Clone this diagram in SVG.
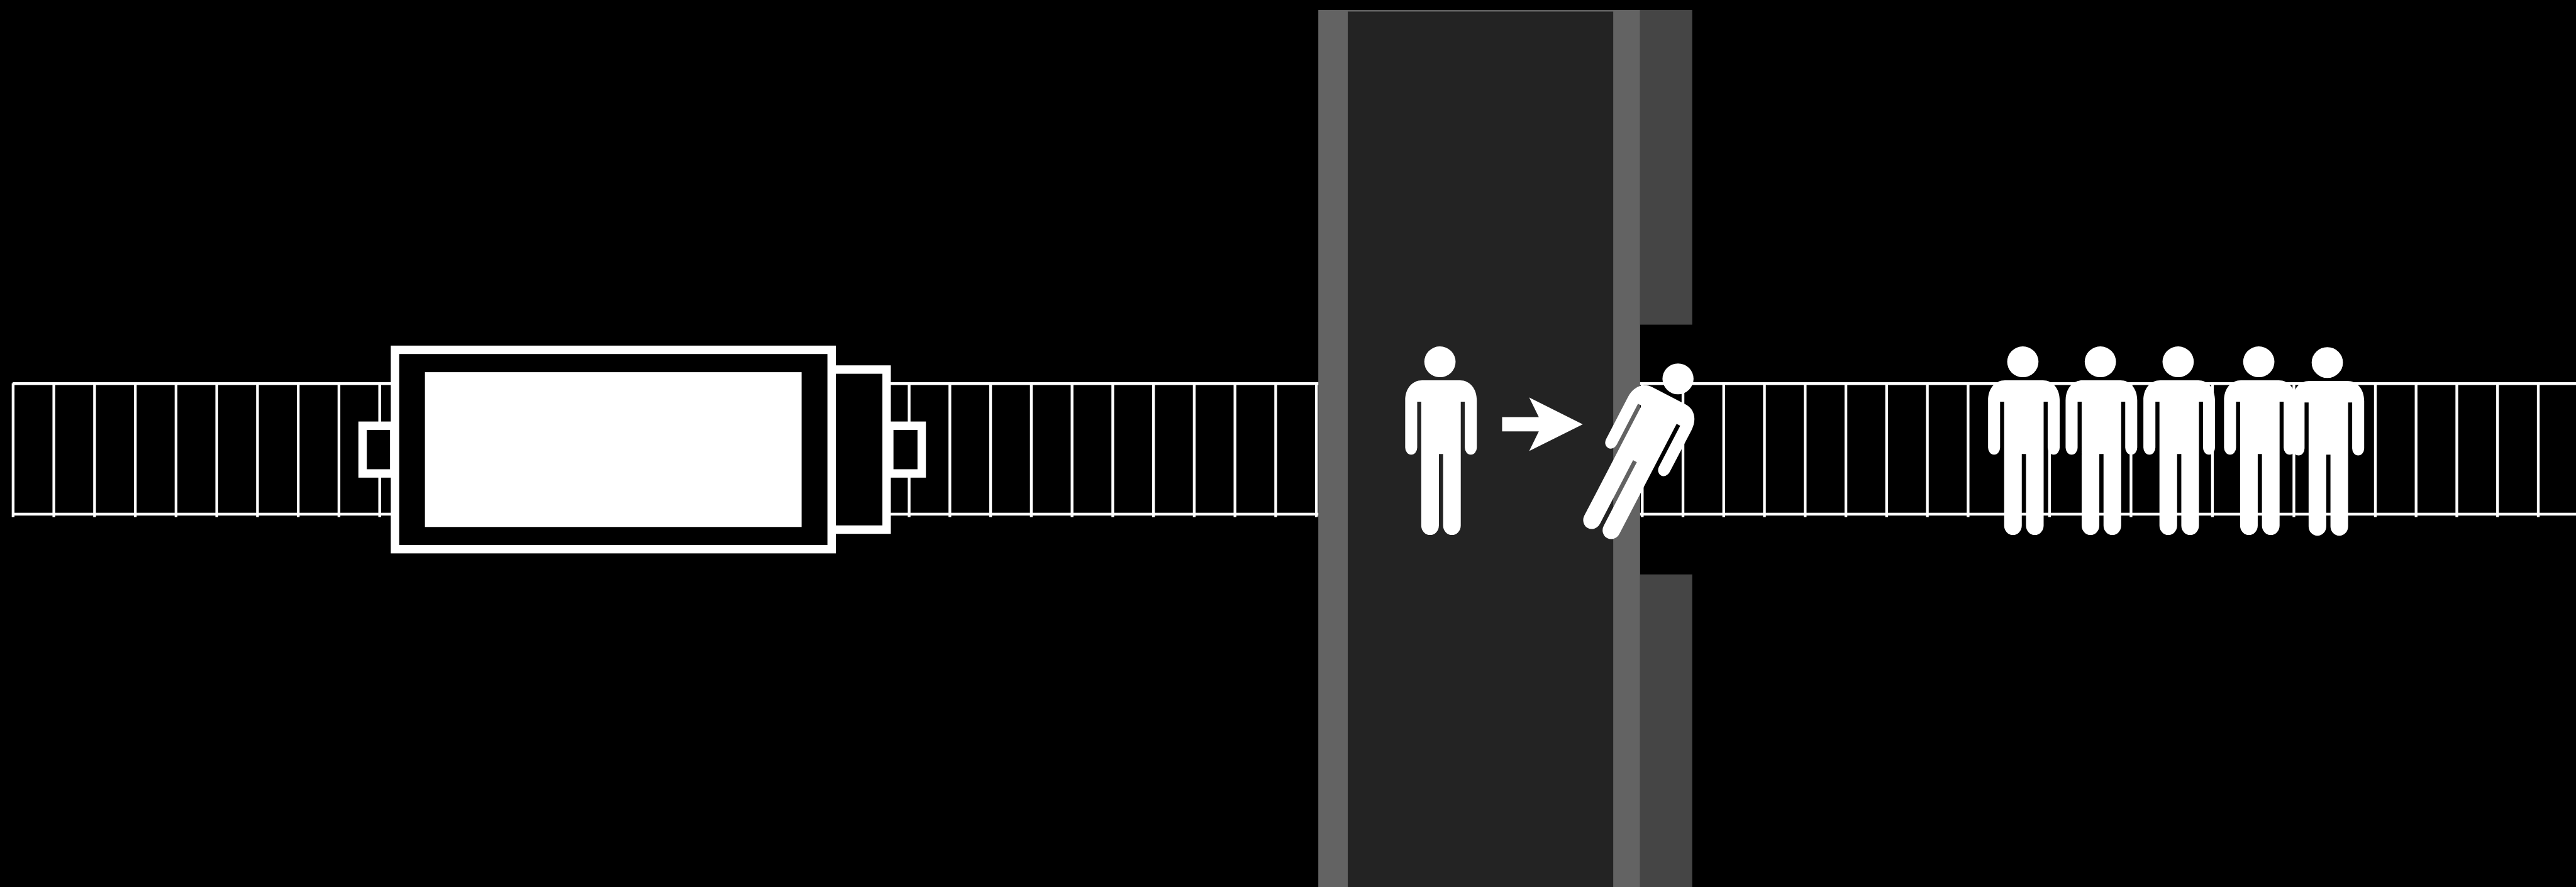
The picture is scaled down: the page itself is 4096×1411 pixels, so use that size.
<svg xmlns="http://www.w3.org/2000/svg" xmlns:xlink="http://www.w3.org/1999/xlink" width="4096" height="1411" viewBox="0 0 4096 1411">
<style>
.w{fill:#fff}
.box{fill:#000;stroke:#fff;stroke-width:16}
.tick{fill:none;stroke:#fff;stroke-width:5.2}
</style>
<defs>
<g id="person">
<ellipse class="w" cx="-2" cy="-35" rx="29.7" ry="29.3"/>
<path class="w" d="M-36 0H36C55 0 68 16 68 38V128A11.4 13.4 0 0 1 45.2 128V40.7H37.5V276A16.75 18 0 0 1 4 276V140H-4V276A16.75 18 0 0 1-37.5 276V40.7H-45.2V128A11.4 13.4 0 0 1-68 128V38C-68 16-55 0-36 0Z"/>
</g>
</defs>
<rect width="4096" height="1411" fill="#000"/>
<g transform="scale(0.83746)">
<g id="track">
<path class="tick" d="M24.9 728V982M102.23 728V982M179.56 728V982M256.89 728V982M334.22 728V982M411.55 728V982M488.88 728V982M566.21 728V982M643.54 728V982M720.87 728V982M1726.16 728V982M1803.49 728V982M1880.82 728V982M1958.15 728V982M2035.48 728V982M2112.81 728V982M2190.14 728V982M2267.47 728V982M2344.8 728V982M2422.13 728V982M2499.46 728V982M3118.1 728V982M3195.43 728V982M3272.76 728V982M3350.09 728V982M3427.42 728V982M3504.75 728V982M3582.08 728V982M3659.41 728V982M3736.74 728V982M3814.07 728V982M3891.4 728V982M3968.73 728V982M4046.06 728V982M4123.39 728V982M4200.72 728V982M4278.05 728V982M4355.38 728V982M4432.71 728V982M4510.04 728V982M4587.37 728V982M4664.7 728V982M4742.03 728V982M4819.36 728V982"/>
<rect class="w" x="24" y="726" width="4867" height="5.3"/>
<rect class="w" x="24" y="974" width="4867" height="5.3"/>
</g>
<g id="vehicle">
<rect class="box" x="688.5" y="808.7" width="60" height="90.6"/>
<rect class="box" x="1688.4" y="808.7" width="61.6" height="90.6"/>
<rect class="box" x="1579" y="702" width="104.4" height="304"/>
<rect class="box" x="750" y="664.5" width="829" height="378.7"/>
<rect class="w" x="806.8" y="707" width="715.2" height="294"/>
</g>
<g id="platform">
<path fill="#454545" d="M3114 19H3213V616.7H3114ZM3114 1091H3213V1685H3114Z"/>
<rect x="2503" y="19" width="611" height="1666" fill="#636363"/>
<rect x="2559" y="22" width="504" height="1663" fill="#232323"/>
</g>
<g id="person-boarding"><use href="#person" xlink:href="#person" transform="translate(2736 722.3)"/></g>
<polygon id="direction-arrow" class="w" points="2852,792.3 2921.7,792.3 2903.4,755 3005.2,806 2903.4,856.7 2921.7,819.3 2852,819.3"/>
<g id="person-falling">
<ellipse class="w" cx="3186" cy="719.7" rx="29.5" ry="29.3"/>
<path class="w" transform="translate(3168.9 751.8) rotate(27.5)" d="M-36 0H36C55 0 68 16 68 38V128A11.4 13.4 0 0 1 45.2 128V40.7H37.5V276A16.75 18 0 0 1 4 276V140H-4V276A16.75 18 0 0 1-37.5 276V40.7H-45.2V128A11.4 13.4 0 0 1-68 128V38C-68 16-55 0-36 0Z"/>
</g>
<g id="person-queue-1"><use href="#person" xlink:href="#person" transform="translate(3842.7 722.3)"/></g>
<g id="person-queue-2"><use href="#person" xlink:href="#person" transform="translate(3989.9 722.3)"/></g>
<g id="person-queue-3"><use href="#person" xlink:href="#person" transform="translate(4137.6 722.3)"/></g>
<g id="person-queue-4"><use href="#person" xlink:href="#person" transform="translate(4290.7 722.3)"/></g>
<g id="person-queue-5"><use href="#person" xlink:href="#person" transform="translate(4420.8 723.7)"/></g>
</g>
</svg>
